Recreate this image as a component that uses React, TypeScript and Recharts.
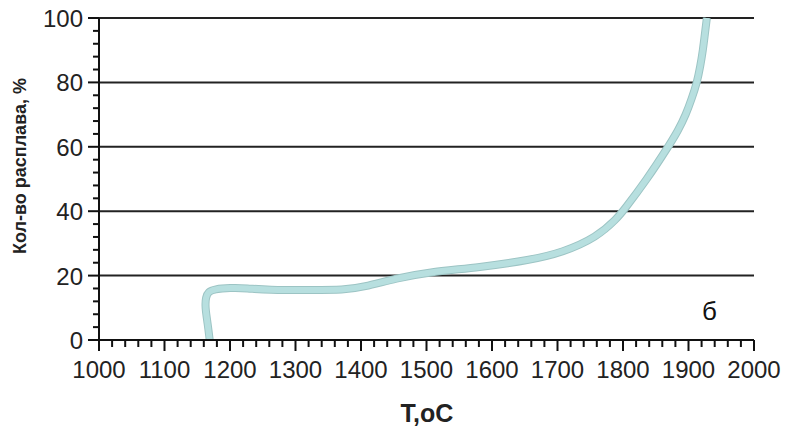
import React from "react";
import { LineChart, Line, XAxis, YAxis, ReferenceLine } from "recharts";

const temperature = [1169, 1166, 1162, 1163, 1167, 1176, 1200, 1226, 1256, 1327, 1373, 1403, 1455, 1501, 1582, 1658, 1708, 1760, 1791, 1800, 1837, 1869, 1884, 1896, 1905, 1913, 1918, 1922, 1925, 1928];
const meltShare = [0, 5, 10.2, 13.3, 15, 15.8, 16.2, 16.1, 15.5, 15.5, 15.5, 16.4, 19.2, 21, 22.6, 24.8, 27.2, 31.9, 37.8, 40, 50, 60, 65, 70, 75, 80, 85, 90, 95, 100];

const xMajorTicks = [1000, 1100, 1200, 1300, 1400, 1500, 1600, 1700, 1800, 1900, 2000];
const xMinorStep = 20;
const yMajorTicks = [0, 20, 40, 60, 80, 100];
const yMinorStep = 4;
const gridValues = [20, 40, 60, 80, 100];

const xAllTicks: number[] = [];
xMajorTicks.forEach((t, i) => {
  xAllTicks.push(t);
  if (i < xMajorTicks.length - 1) {
    for (let k = t + xMinorStep; k < xMajorTicks[i + 1]; k += xMinorStep) xAllTicks.push(k);
  }
});
const yAllTicks: number[] = [];
yMajorTicks.forEach((t, i) => {
  yAllTicks.push(t);
  if (i < yMajorTicks.length - 1) {
    for (let k = t + yMinorStep; k < yMajorTicks[i + 1]; k += yMinorStep) yAllTicks.push(k);
  }
});

const data = temperature.map((t, i) => ({ t, v: meltShare[i] }));

const FONT = "'Liberation Sans', Arial, sans-serif";

const XTick = (props: any) => {
  const { x, y, payload } = props;
  const major = xMajorTicks.includes(payload.value);
  return (
    <g>
      <line x1={x} x2={x} y1={y} y2={y + (major ? 11 : 7)} stroke="#111" strokeWidth={2} />
      {major && (
        <text x={x} y={y + 38} textAnchor="middle" fontSize={24} fontFamily={FONT} fill="#222">
          {payload.value}
        </text>
      )}
    </g>
  );
};

const YTick = (props: any) => {
  const { x, y, payload } = props;
  const major = yMajorTicks.includes(payload.value);
  return (
    <g>
      <line x1={x - (major ? 11 : 6)} x2={x} y1={y} y2={y} stroke="#111" strokeWidth={2} />
      {major && (
        <text x={x - 16} y={y + 9} textAnchor="end" fontSize={24} fontFamily={FONT} fill="#222">
          {payload.value}
        </text>
      )}
    </g>
  );
};

export default function App() {
  return (
    <div style={{ position: "absolute", left: 0, top: 0, width: 786, height: 426, background: "#fff" }}>
      <LineChart width={786} height={426} data={data} margin={{ top: 18, right: 32, bottom: 0, left: 0 }}>
        <XAxis
          dataKey="t"
          type="number"
          domain={[1000, 2000]}
          ticks={xAllTicks}
          interval={0}
          tick={<XTick />}
          tickLine={false}
          tickSize={0}
          tickMargin={0}
          axisLine={{ stroke: "#111", strokeWidth: 2 }}
          height={86}
          allowDataOverflow
          label={{
            content: () => (
              <text x={427} y={422} textAnchor="middle" fontSize={25} fontWeight="bold" fontFamily={FONT} fill="#222">
                T,oC
              </text>
            ),
          }}
        />
        <YAxis
          dataKey="v"
          type="number"
          domain={[0, 100]}
          ticks={yAllTicks}
          interval={0}
          tick={<YTick />}
          tickLine={false}
          tickSize={0}
          tickMargin={0}
          axisLine={{ stroke: "#111", strokeWidth: 2 }}
          width={99}
          label={{
            content: () => (
              <text
                x={26}
                y={166}
                transform="rotate(-90, 26, 166)"
                textAnchor="middle"
                fontSize={18}
                fontWeight="bold"
                fontFamily={FONT}
                fill="#222"
              >
                Кол-во расплава, %
              </text>
            ),
          }}
        />
        {gridValues.map((g) => (
          <ReferenceLine key={g} y={g} stroke="#222" strokeWidth={2} />
        ))}
        <Line
          dataKey="v"
          type="basis"
          stroke="#9cc4c4"
          strokeWidth={8}
          dot={false}
          activeDot={false}
          isAnimationActive={false}
        />
        <Line
          dataKey="v"
          type="basis"
          stroke="#b7dfdf"
          strokeWidth={6}
          dot={false}
          activeDot={false}
          isAnimationActive={false}
        />
      </LineChart>
      <div
        style={{
          position: "absolute",
          left: 702,
          top: 296,
          fontSize: 26,
          fontFamily: FONT,
          color: "#111",
          lineHeight: "30px",
        }}
      >
        б
      </div>
    </div>
  );
}
